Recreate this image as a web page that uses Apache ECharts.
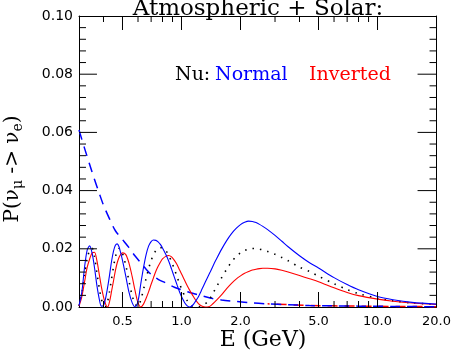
<!DOCTYPE html>
<html>
<head>
<meta charset="utf-8">
<script src="https://cdn.jsdelivr.net/npm/echarts@6/dist/echarts.min.js"></script>
<style>
  html, body { margin: 0; padding: 0; background: #fff; }
  #chart { width: 454px; height: 354px; background: #fff; }
</style>
</head>
<body>
<div id="chart"></div>
<script>
// energies (GeV)
var energy = [0.30,0.31,0.32,0.33,0.34,0.35,0.36,0.37,0.38,0.39,0.40,0.41,0.42,0.43,0.44,0.45,0.46,0.47,0.48,0.49,0.50,
	0.52,0.54,0.56,0.58,0.60,0.62,0.64,0.66,0.68,0.70,0.72,0.74,0.76,0.78,0.80,
	0.83,0.86,0.89,0.92,0.95,0.98,1.01,1.04,1.07,1.10,1.14,1.18,1.22,1.26,1.30,1.35,1.40,1.45,1.50,
	1.60,1.70,1.80,1.90,2.00,2.10,2.20,2.30,2.40,2.50,2.60,2.75,3.00,3.25,3.50,4.00,4.50,5.00,6.00,7.00,8.00,10.0,12.0,15.0,20.0];

// Normal hierarchy (blue)
var normal = [0.0005,0.0050,0.0135,0.0195,0.0210,0.0185,0.0135,0.0075,0.0030,0.0003,0.0005,0.0030,0.0068,0.0112,0.0158,0.0192,0.0212,0.0217,0.0207,0.0185,0.0160,
	0.0105,0.0050,0.0015,0.0000,0.0020,0.0080,0.0135,0.0180,0.0210,0.0225,0.0230,0.0229,0.0224,0.0215,0.0203,
	0.0182,0.0158,0.0130,0.0102,0.0075,0.0050,0.0030,0.0014,0.0004,0.0000,0.0006,0.0020,0.0035,0.0055,0.0075,0.0098,0.0120,0.0142,0.0162,
	0.0198,0.0228,0.0252,0.0270,0.0283,0.0291,0.0295,0.0294,0.0290,0.0284,0.0277,0.0266,0.0246,0.0226,0.0207,0.0176,0.0152,0.0134,0.0101,0.0077,0.0059,0.0036,0.0025,0.0016,0.0010];

// Inverted hierarchy (red)
var inverted = [0.0003,0.0035,0.0085,0.0135,0.0165,0.0186,0.0188,0.0160,0.0115,0.0070,0.0035,0.0010,0.0000,0.0020,0.0055,0.0090,0.0125,0.0152,0.0170,0.0181,0.0186,
	0.0180,0.0150,0.0105,0.0055,0.0015,0.0000,0.0010,0.0030,0.0053,0.0078,0.0101,0.0123,0.0140,0.0154,0.0165,
	0.0174,0.0177,0.0172,0.0160,0.0145,0.0126,0.0108,0.0090,0.0073,0.0058,0.0040,0.0024,0.0012,0.0004,0.0001,0.0000,0.0003,0.0012,0.0022,
	0.0042,0.0063,0.0081,0.0096,0.0107,0.0116,0.0122,0.0127,0.0130,0.0132,0.0133,0.0133,0.0131,0.0126,0.0120,0.0108,0.0097,0.0087,0.0066,0.0050,0.0039,0.0027,0.0020,0.0014,0.0009];

// dotted curve (black)
var dotted = [0.0004,0.0045,0.0110,0.0165,0.0195,0.0202,0.0172,0.0118,0.0068,0.0028,0.0006,0.0002,0.0020,0.0055,0.0098,0.0138,0.0172,0.0192,0.0201,0.0198,0.0185,
	0.0142,0.0088,0.0040,0.0010,0.0002,0.0025,0.0060,0.0098,0.0132,0.0160,0.0180,0.0194,0.0201,0.0204,0.0203,
	0.0195,0.0178,0.0155,0.0130,0.0103,0.0078,0.0056,0.0037,0.0022,0.0011,0.0003,0.0001,0.0000,0.0003,0.0008,0.0016,0.0030,0.0048,0.0066,
	0.0100,0.0130,0.0155,0.0173,0.0186,0.0194,0.0199,0.0201,0.0201,0.0199,0.0196,0.0191,0.0181,0.0170,0.0159,0.0137,0.0122,0.0106,0.0080,0.0060,0.0046,0.0030,0.0021,0.0014,0.0009];

// solar term (dashed)
var solarEnergy = [0.30,0.32,0.34,0.36,0.38,0.40,0.43,0.46,0.50,0.54,0.58,0.62,0.66,0.70,0.76,0.83,0.92,1.01,1.10,1.22,1.40,1.60,1.90,2.30,2.75,3.50,4.50,6.00,8.00,12.0,20.0];
var solarNormal = [0.0608,0.0546,0.0490,0.0438,0.0392,0.0350,0.0302,0.0262,0.0232,0.0204,0.0175,0.0152,0.0130,0.0112,0.0095,0.0083,0.0068,0.0058,0.0050,0.0042,0.0031,0.0024,0.0019,0.0014,0.0011,0.0008,0.0005,0.0004,0.0003,0.0002,0.0001];
var solarTailEnergy = [2.75,3.50,4.50,6.00,8.00,12.0,20.0];
var solarInverted = [0.0011,0.0008,0.0005,0.0004,0.0003,0.0002,0.0001];

// ticks
var xMajor = [0.5,1,2,5,10,20];
var xMinor = [0.4,0.6,0.7,0.8,0.9,3,4,6,7,8,9];
var yMajor = [0.02,0.04,0.06,0.08];
var yMinor = [0.004,0.008,0.012,0.016,0.024,0.028,0.032,0.036,0.044,0.048,0.052,0.056,0.064,0.068,0.072,0.076,0.084,0.088,0.092,0.096];

var E_MIN = 0.3, E_MAX = 20, P_MIN = 0, P_MAX = 0.1;

function pairs(xs, ys) {
	return xs.map(function (x, i) { return [x, ys[i]]; });
}

var serif = 'DejaVu Serif';
var sans = 'DejaVu Sans';

// grid box (px)
var G = { left: 79, right: 17, top: 16, bottom: 47 };
var plotW = 454 - G.left - G.right;
var plotH = 354 - G.top - G.bottom;

// tick length in px -> data units
function dP(px) { return px / plotH * (P_MAX - P_MIN); }
function eFactor(px) { return Math.pow(10, px / plotW * Math.log10(E_MAX / E_MIN)); }

// tick marks as broken line segments
var tickData = [];
function vTicks(list, p0, p1) {
	list.forEach(function (e) { tickData.push([e, p0], [e, p1], [e, '-']); });
}
function hTicks(list, e0, e1) {
	list.forEach(function (p) { tickData.push([e0, p], [e1, p], [e1, '-']); });
}
vTicks(xMajor, P_MIN, P_MIN + dP(15));
vTicks(xMinor, P_MIN, P_MIN + dP(6));
vTicks(xMajor, P_MAX, P_MAX - dP(14));
vTicks(xMinor, P_MAX, P_MAX - dP(6));
hTicks(yMajor, E_MIN, E_MIN * eFactor(18));
hTicks(yMinor, E_MIN, E_MIN * eFactor(7));
hTicks(yMajor, E_MAX, E_MAX / eFactor(19));
hTicks(yMinor, E_MAX, E_MAX / eFactor(7));

function xAx(pos, labels) {
	return {
		type: 'log', logBase: 10, min: E_MIN, max: E_MAX, position: pos,
		axisLine: { show: true, onZero: false, lineStyle: { color: '#000', width: 1 } },
		axisTick: { show: false },
		axisLabel: {
			show: labels, customValues: xMajor, margin: 8,
			fontFamily: sans, fontSize: 13, color: '#000',
			formatter: function (v) { return Number(v).toFixed(1); }
		},
		splitLine: { show: false },
		minorTick: { show: false },
		minorSplitLine: { show: false }
	};
}

function yAx(pos, labels) {
	return {
		type: 'value', min: P_MIN, max: P_MAX, interval: 0.02, position: pos,
		axisLine: { show: true, lineStyle: { color: '#000', width: 1 } },
		axisTick: { show: false },
		minorTick: { show: false },
		axisLabel: {
			show: labels, margin: 6, fontFamily: sans, fontSize: 14, color: '#000',
			formatter: function (v) { return v.toFixed(2); }
		},
		splitLine: { show: false }
	};
}

var chart = echarts.init(document.getElementById('chart'));

chart.setOption({
	animation: false,
	grid: G,
	xAxis: [xAx('bottom', true), xAx('top', false)],
	yAxis: [yAx('left', true), yAx('right', false)],
	graphic: [
		{ type: 'text', x: 258, y: 9,
			style: { text: 'Atmospheric + Solar:', fontFamily: serif, fontSize: 23, fill: '#000', align: 'center', verticalAlign: 'middle' } },
		{ type: 'text', x: 175, y: 75, style: { text: 'Nu:', fontFamily: serif, fontSize: 19, fill: '#000', verticalAlign: 'middle' } },
		{ type: 'text', x: 215, y: 75, style: { text: 'Normal', fontFamily: serif, fontSize: 19, fill: '#0000ff', verticalAlign: 'middle' } },
		{ type: 'text', x: 309, y: 75, style: { text: 'Inverted', fontFamily: serif, fontSize: 19, fill: '#ff0000', verticalAlign: 'middle' } },
		{ type: 'text', x: 263, y: 340,
			style: { text: 'E (GeV)', fontFamily: serif, fontSize: 22, fill: '#000', align: 'center', verticalAlign: 'middle' } },
		{ type: 'text', x: 13, y: 169, rotation: Math.PI / 2,
			style: {
				text: 'P(\u03bd{s|\u03bc} -> \u03bd{s|e})', fontFamily: serif, fontSize: 20, fill: '#000',
				align: 'center', verticalAlign: 'middle',
				rich: { s: { fontFamily: serif, fontSize: 14, fill: '#000', padding: [10, 0, 0, 0] } }
			} }
	],
	series: [
		{
			type: 'line', data: tickData, showSymbol: false, symbol: 'none', connectNulls: false, silent: true,
			lineStyle: { color: '#000', width: 1 }, z: 10
		},
		{
			type: 'line', data: pairs(solarTailEnergy, solarInverted), showSymbol: false, symbol: 'none',
			lineStyle: { color: '#ff0000', width: 1.5, type: [10, 7], dashOffset: 8 }
		},
		{
			type: 'line', data: pairs(solarEnergy, solarNormal), showSymbol: false, symbol: 'none', smooth: 0.3,
			lineStyle: { color: '#0000ff', width: 1.5, type: [10, 7] }
		},
		{
			type: 'line', data: pairs(energy, dotted), showSymbol: false, symbol: 'none', smooth: 0.3,
			lineStyle: { color: '#000', width: 1.6, type: [1.5, 6] }
		},
		{
			type: 'line', data: pairs(energy, inverted), showSymbol: false, symbol: 'none', smooth: 0.3,
			lineStyle: { color: '#ff0000', width: 1.1 }
		},
		{
			type: 'line', data: pairs(energy, normal), showSymbol: false, symbol: 'none', smooth: 0.3,
			lineStyle: { color: '#0000ff', width: 1.1 }
		}
	]
});
</script>
</body>
</html>
